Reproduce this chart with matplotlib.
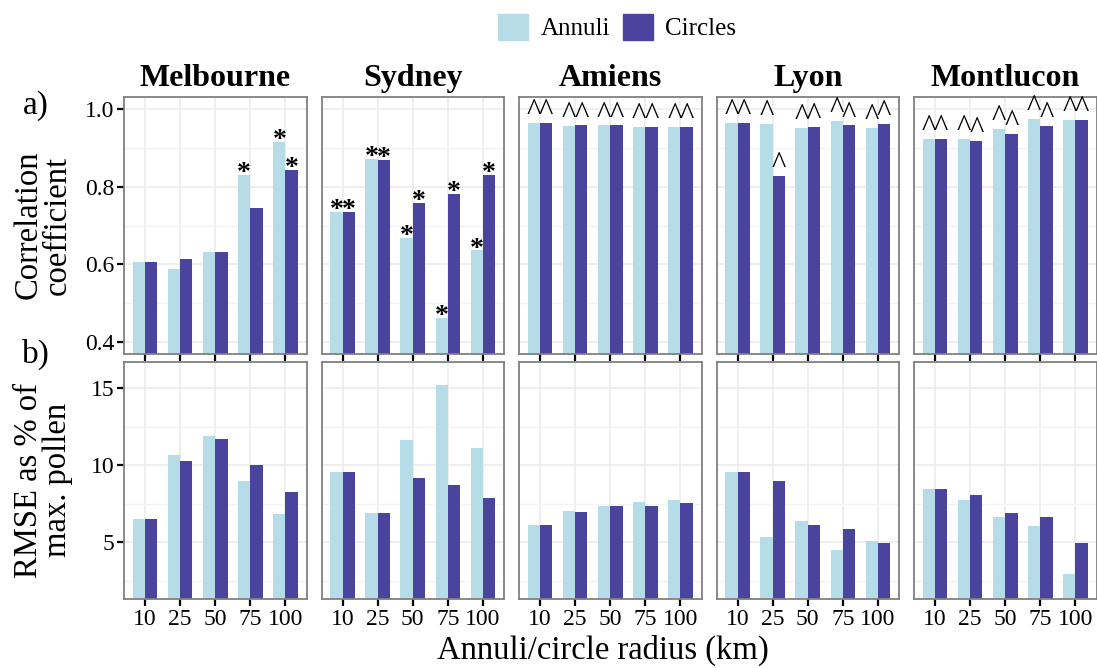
import numpy as np
import matplotlib.pyplot as plt
from matplotlib.patches import Patch
from matplotlib.ticker import MultipleLocator

plt.rcParams['font.family'] = ['Liberation Serif', 'DejaVu Serif']

cities = ['Melbourne', 'Sydney', 'Amiens', 'Lyon', 'Montlucon']
radii = ['10', '25', '50', '75', '100']

# a) correlation coefficient
mel_corr_annuli = [0.606, 0.588, 0.632, 0.830, 0.915]
mel_corr_circles = [0.606, 0.613, 0.632, 0.745, 0.842]
syd_corr_annuli = [0.734, 0.870, 0.669, 0.463, 0.636]
syd_corr_circles = [0.734, 0.868, 0.757, 0.780, 0.829]
ami_corr_annuli = [0.963, 0.955, 0.957, 0.953, 0.954]
ami_corr_circles = [0.963, 0.957, 0.957, 0.954, 0.954]
lyo_corr_annuli = [0.963, 0.961, 0.951, 0.969, 0.951]
lyo_corr_circles = [0.963, 0.827, 0.954, 0.957, 0.961]
mon_corr_annuli = [0.923, 0.922, 0.948, 0.974, 0.972]
mon_corr_circles = [0.923, 0.917, 0.936, 0.955, 0.971]

# significance flags drawn above the correlation bars
mel_mark_annuli = ['', '', '', '*', '*']
mel_mark_circles = ['', '', '', '', '*']
syd_mark = ['*'] * 5
fr_mark = ['^'] * 5

# b) RMSE as % of max pollen
mel_rmse_annuli = [6.47, 10.67, 11.92, 8.94, 6.81]
mel_rmse_circles = [6.47, 10.28, 11.68, 10.00, 8.25]
syd_rmse_annuli = [9.53, 6.90, 11.60, 15.20, 11.14]
syd_rmse_circles = [9.53, 6.92, 9.16, 8.69, 7.84]
ami_rmse_annuli = [6.12, 7.05, 7.37, 7.63, 7.74]
ami_rmse_circles = [6.12, 6.98, 7.37, 7.37, 7.56]
lyo_rmse_annuli = [9.57, 5.30, 6.38, 4.50, 5.04]
lyo_rmse_circles = [9.57, 8.97, 6.12, 5.86, 4.96]
mon_rmse_annuli = [8.43, 7.74, 6.60, 6.06, 2.95]
mon_rmse_circles = [8.43, 8.04, 6.90, 6.60, 4.91]

corr = [(mel_corr_annuli, mel_corr_circles, mel_mark_annuli, mel_mark_circles),
        (syd_corr_annuli, syd_corr_circles, syd_mark, syd_mark),
        (ami_corr_annuli, ami_corr_circles, fr_mark, fr_mark),
        (lyo_corr_annuli, lyo_corr_circles, fr_mark, fr_mark),
        (mon_corr_annuli, mon_corr_circles, fr_mark, fr_mark)]
rmse = [(mel_rmse_annuli, mel_rmse_circles),
        (syd_rmse_annuli, syd_rmse_circles),
        (ami_rmse_annuli, ami_rmse_circles),
        (lyo_rmse_annuli, lyo_rmse_circles),
        (mon_rmse_annuli, mon_rmse_circles)]

c_annuli = '#b6dde7'
c_circles = '#4a449e'
W, H = 1097, 668

fig = plt.figure(figsize=(W / 100, H / 100), dpi=100)


def px_axes(left, top, w, h):
    return fig.add_axes([left / W, 1 - (top + h) / H, w / W, h / H])


def style(ax, ylim, major, minor):
    ax.set_xlim(-0.6, 4.6)
    ax.set_ylim(*ylim)
    ax.yaxis.set_major_locator(MultipleLocator(major))
    ax.yaxis.set_minor_locator(MultipleLocator(minor))
    ax.set_xticks(range(5))
    ax.grid(True, which='major', color='#ebebeb', lw=1.1)
    ax.grid(True, which='minor', axis='y', color='#f4f4f4', lw=1.0)
    ax.set_axisbelow(True)
    for s in ax.spines.values():
        s.set_color('#808080')
        s.set_linewidth(1.3)
    ax.tick_params(which='major', length=5, width=1.6, color='black', labelsize=17, pad=2)
    ax.tick_params(which='minor', length=0)


x = np.arange(5)
bw = 0.35
lefts = [124, 321.5, 519, 716.5, 914]
pw = 182.5

for i, city in enumerate(cities):
    # top row: correlation
    ax = px_axes(lefts[i], 97, pw, 257)
    a_vals, c_vals, a_mark, c_mark = corr[i]
    ax.bar(x - bw / 2, a_vals, bw, color=c_annuli)
    ax.bar(x + bw / 2, c_vals, bw, color=c_circles)
    for j in range(5):
        for xx, v, m in ((x[j] - bw / 2, a_vals[j], a_mark[j]), (x[j] + bw / 2, c_vals[j], c_mark[j])):
            if m == '*':
                ax.annotate('*', (xx, v), xytext=(0, -8), textcoords='offset points',
                            ha='center', va='bottom', fontsize=20, fontweight='bold')
            elif m == '^':
                ax.annotate('^', (xx, v), xytext=(0, -3), textcoords='offset points',
                            ha='center', va='bottom', fontsize=22)
    style(ax, (0.37, 1.03), 0.2, 0.1)
    ax.set_xticklabels([])
    if i > 0:
        ax.tick_params(axis='y', length=0, labelleft=False)
    ax.set_title(city, fontsize=23, fontweight='bold', pad=8)

    # bottom row: RMSE
    ax2 = px_axes(lefts[i], 362, pw, 237)
    a_vals, c_vals = rmse[i]
    ax2.bar(x - bw / 2, a_vals, bw, color=c_annuli)
    ax2.bar(x + bw / 2, c_vals, bw, color=c_circles)
    style(ax2, (1.3, 16.7), 5, 2.5)
    ax2.set_xticklabels(radii)
    if i > 0:
        ax2.tick_params(axis='y', length=0, labelleft=False)

fig.text(603 / W, 1 - 650 / H, 'Annuli/circle radius (km)', ha='center', va='center', fontsize=23.5)
fig.text(43 / W, 1 - 225 / H, 'Correlation\ncoefficient', ha='center', va='center',
         rotation=90, fontsize=23.5, linespacing=0.95)
fig.text(43 / W, 1 - 480 / H, 'RMSE as % of\nmax. pollen', ha='center', va='center',
         rotation=90, fontsize=23.5, linespacing=0.95)
fig.text(36 / W, 1 - 106 / H, 'a)', ha='center', va='center', fontsize=24)
fig.text(36 / W, 1 - 354 / H, 'b)', ha='center', va='center', fontsize=24)

handles = [Patch(color=c_annuli, label='Annuli'), Patch(color=c_circles, label='Circles')]
fig.legend(handles=handles, loc='center', bbox_to_anchor=(617 / W, 1 - 27 / H), ncol=2,
           frameon=False, fontsize=18, handlelength=1.2, handleheight=1.2,
           handletextpad=0.5, columnspacing=0.5)

fig.savefig('out.png', dpi=100)
